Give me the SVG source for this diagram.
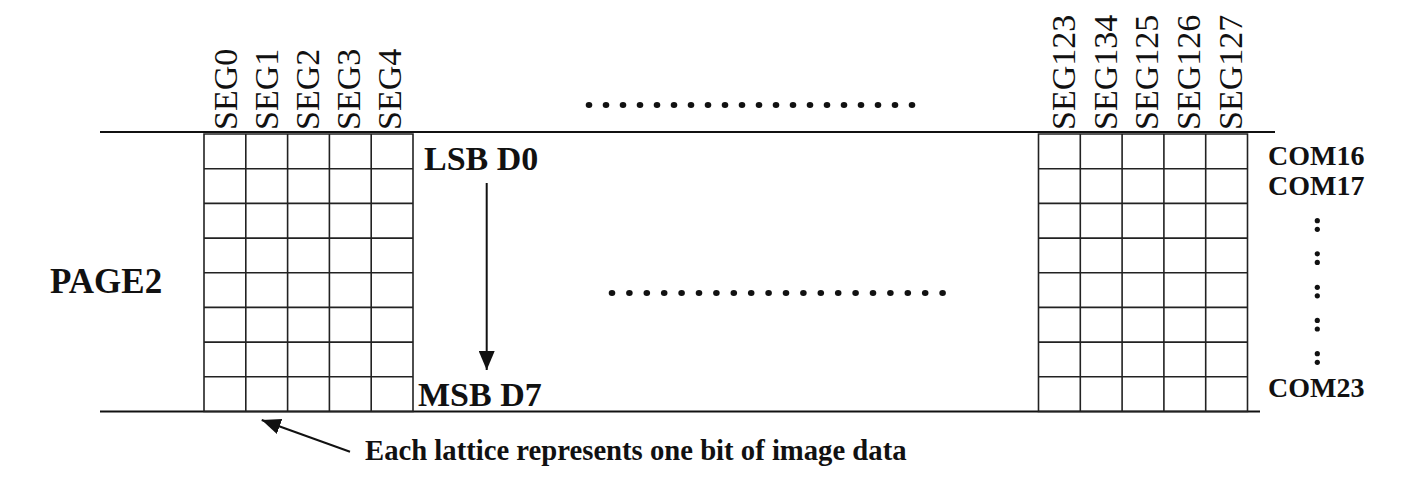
<svg xmlns="http://www.w3.org/2000/svg" width="1410" height="485" viewBox="0 0 1410 485">
<style>
.grid{fill:none;stroke:#222;stroke-width:1.6}
.rule{stroke:#111;stroke-width:2.2}
.seg{font-family:"Liberation Serif","Times New Roman",serif;font-size:34px;fill:#111}
.bold{font-family:"Liberation Serif","Times New Roman",serif;font-weight:bold;fill:#111}
.big{font-size:34px}
.small{font-size:28px}
.note{font-size:28.7px}
.dot{fill:#111}
.conn{stroke:#111;stroke-width:2;fill:none}
</style>
<defs>
<marker id="ah" viewBox="0 0 19 16" refX="19" refY="8" markerWidth="19" markerHeight="16" markerUnits="userSpaceOnUse" orient="auto">
<path d="M0,0 L19,8 L0,16 z" fill="#111"/>
</marker>
<g id="cells">
<path class="grid" d="M0,0 H209 V277.5 H0 Z M41.8,0 V277.5 M83.6,0 V277.5 M125.4,0 V277.5 M167.2,0 V277.5 M0,34.7 H209 M0,69.4 H209 M0,104.1 H209 M0,138.8 H209 M0,173.4 H209 M0,208.1 H209 M0,242.8 H209"/>
</g>
</defs>

<g id="rules">
<line class="rule" x1="100" y1="132" x2="1275" y2="132"/>
<line class="rule" x1="100" y1="411.5" x2="1260" y2="411.5"/>
</g>

<g id="left-grid">
<use href="#cells" x="204" y="134"/>
</g>
<g id="right-grid">
<use href="#cells" x="1038.5" y="134"/>
</g>

<g id="seg-left">
<text class="seg" transform="translate(237,130) rotate(-90)">SEG0</text>
<text class="seg" transform="translate(277.5,130) rotate(-90)">SEG1</text>
<text class="seg" transform="translate(319,130) rotate(-90)">SEG2</text>
<text class="seg" transform="translate(360,130) rotate(-90)">SEG3</text>
<text class="seg" transform="translate(401,130) rotate(-90)">SEG4</text>
</g>
<g id="seg-right">
<text class="seg" transform="translate(1075,130) rotate(-90)">SEG123</text>
<text class="seg" transform="translate(1117,130) rotate(-90)">SEG134</text>
<text class="seg" transform="translate(1157.5,130) rotate(-90)">SEG125</text>
<text class="seg" transform="translate(1200,130) rotate(-90)">SEG126</text>
<text class="seg" transform="translate(1242,130) rotate(-90)">SEG127</text>
</g>

<g id="dots-top">
<ellipse class="dot" cx="589" cy="105" rx="3.3" ry="2.9"/><ellipse class="dot" cx="606" cy="105" rx="3.3" ry="2.9"/><ellipse class="dot" cx="623" cy="105" rx="3.3" ry="2.9"/><ellipse class="dot" cx="640" cy="105" rx="3.3" ry="2.9"/><ellipse class="dot" cx="657" cy="105" rx="3.3" ry="2.9"/><ellipse class="dot" cx="674" cy="105" rx="3.3" ry="2.9"/><ellipse class="dot" cx="691" cy="105" rx="3.3" ry="2.9"/><ellipse class="dot" cx="708" cy="105" rx="3.3" ry="2.9"/><ellipse class="dot" cx="725" cy="105" rx="3.3" ry="2.9"/><ellipse class="dot" cx="742" cy="105" rx="3.3" ry="2.9"/><ellipse class="dot" cx="759" cy="105" rx="3.3" ry="2.9"/><ellipse class="dot" cx="776" cy="105" rx="3.3" ry="2.9"/><ellipse class="dot" cx="793" cy="105" rx="3.3" ry="2.9"/><ellipse class="dot" cx="810" cy="105" rx="3.3" ry="2.9"/><ellipse class="dot" cx="827" cy="105" rx="3.3" ry="2.9"/><ellipse class="dot" cx="844" cy="105" rx="3.3" ry="2.9"/><ellipse class="dot" cx="861" cy="105" rx="3.3" ry="2.9"/><ellipse class="dot" cx="878" cy="105" rx="3.3" ry="2.9"/><ellipse class="dot" cx="895" cy="105" rx="3.3" ry="2.9"/><ellipse class="dot" cx="912" cy="105" rx="3.3" ry="2.9"/>
</g>
<g id="dots-mid">
<ellipse class="dot" cx="612" cy="293" rx="3.3" ry="2.9"/><ellipse class="dot" cx="629.4" cy="293" rx="3.3" ry="2.9"/><ellipse class="dot" cx="646.8" cy="293" rx="3.3" ry="2.9"/><ellipse class="dot" cx="664.2" cy="293" rx="3.3" ry="2.9"/><ellipse class="dot" cx="681.6" cy="293" rx="3.3" ry="2.9"/><ellipse class="dot" cx="699" cy="293" rx="3.3" ry="2.9"/><ellipse class="dot" cx="716.4" cy="293" rx="3.3" ry="2.9"/><ellipse class="dot" cx="733.8" cy="293" rx="3.3" ry="2.9"/><ellipse class="dot" cx="751.2" cy="293" rx="3.3" ry="2.9"/><ellipse class="dot" cx="768.6" cy="293" rx="3.3" ry="2.9"/><ellipse class="dot" cx="786" cy="293" rx="3.3" ry="2.9"/><ellipse class="dot" cx="803.4" cy="293" rx="3.3" ry="2.9"/><ellipse class="dot" cx="820.8" cy="293" rx="3.3" ry="2.9"/><ellipse class="dot" cx="838.2" cy="293" rx="3.3" ry="2.9"/><ellipse class="dot" cx="855.6" cy="293" rx="3.3" ry="2.9"/><ellipse class="dot" cx="873" cy="293" rx="3.3" ry="2.9"/><ellipse class="dot" cx="890.4" cy="293" rx="3.3" ry="2.9"/><ellipse class="dot" cx="907.8" cy="293" rx="3.3" ry="2.9"/><ellipse class="dot" cx="925.2" cy="293" rx="3.3" ry="2.9"/><ellipse class="dot" cx="942.6" cy="293" rx="3.3" ry="2.9"/>
</g>

<g id="page-label">
<text class="bold" font-size="35" x="50" y="293">PAGE2</text>
</g>
<g id="lsb-label">
<text class="bold big" x="424" y="170">LSB D0</text>
</g>
<g id="msb-label">
<text class="bold big" x="418" y="406">MSB D7</text>
</g>
<g id="com-labels">
<text class="bold small" x="1268" y="165">COM16</text>
<text class="bold small" x="1268" y="195">COM17</text>
<text class="bold small" x="1268" y="397">COM23</text>
<g class="dot">
<circle cx="1317.3" cy="220.7" r="2.6"/><circle cx="1317.3" cy="229.3" r="2.6"/>
<circle cx="1317.3" cy="253.8" r="2.6"/><circle cx="1317.3" cy="262.4" r="2.6"/>
<circle cx="1317.3" cy="287.3" r="2.6"/><circle cx="1317.3" cy="295.8" r="2.6"/>
<circle cx="1317.3" cy="320.4" r="2.6"/><circle cx="1317.3" cy="329" r="2.6"/>
<circle cx="1317.3" cy="353.7" r="2.6"/><circle cx="1317.3" cy="362.3" r="2.6"/>
</g>
</g>
<g id="note-label">
<text class="bold note" x="365" y="460">Each lattice represents one bit of image data</text>
</g>

<g id="connectors">
<line class="conn" x1="486.7" y1="183" x2="486.7" y2="370" marker-end="url(#ah)"/>
<line class="conn" x1="350" y1="451.7" x2="261.7" y2="420" marker-end="url(#ah)"/>
</g>
</svg>
